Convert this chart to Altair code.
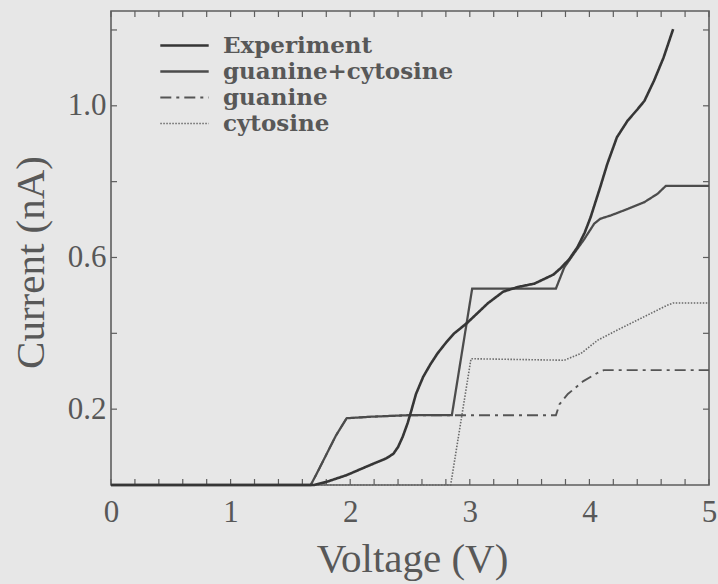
import altair as alt
import pandas as pd

# I-V curves: voltage (V) and current (nA)
exp_v = [0.0, 1.00, 1.70, 1.80, 1.97, 2.17, 2.30, 2.36, 2.40, 2.44, 2.48, 2.51, 2.55, 2.61, 2.67,
         2.73, 2.80, 2.87, 2.98, 3.07, 3.15, 3.28, 3.40, 3.54, 3.70, 3.76, 3.83, 3.90, 3.96, 4.01,
         4.09, 4.15, 4.23, 4.32, 4.40, 4.46, 4.54, 4.62, 4.70]
exp_i = [0.0, 0.0, 0.0, 0.008, 0.026, 0.053, 0.07, 0.082, 0.10, 0.128, 0.163, 0.195, 0.24, 0.285,
         0.318, 0.347, 0.375, 0.40, 0.428, 0.455, 0.479, 0.51, 0.522, 0.531, 0.555, 0.572, 0.595,
         0.627, 0.665, 0.706, 0.785, 0.847, 0.917, 0.961, 0.99, 1.013, 1.066, 1.127, 1.202]

gc_v = [0.0, 1.67, 1.72, 1.80, 1.88, 1.97, 2.17, 2.48, 2.85, 3.02, 3.72, 3.79, 3.87, 3.95,
        4.04, 4.09, 4.18, 4.32, 4.46, 4.57, 4.64, 5.0]
gc_i = [0.0, 0.0, 0.03, 0.08, 0.13, 0.176, 0.180, 0.184, 0.184, 0.518, 0.518, 0.574, 0.61, 0.645,
        0.689, 0.702, 0.711, 0.728, 0.746, 0.768, 0.789, 0.789]

g_v = [0.0, 1.67, 1.72, 1.80, 1.88, 1.97, 2.17, 2.48, 3.72, 3.75, 3.82, 3.95, 4.07, 4.12, 5.0]
g_i = [0.0, 0.0, 0.03, 0.08, 0.13, 0.176, 0.180, 0.184, 0.184, 0.213, 0.24, 0.274, 0.296, 0.303, 0.303]

c_v = [0.0, 2.84, 3.01, 3.79, 3.93, 4.07, 4.23, 4.37, 4.51, 4.65, 4.70, 5.0]
c_i = [0.0, 0.0, 0.333, 0.329, 0.347, 0.382, 0.408, 0.43, 0.452, 0.474, 0.48, 0.48]

series_names = ["Experiment", "guanine+cytosine", "guanine", "cytosine"]
series_colors = ["#363636", "#4c4c4c", "#555555", "#6a6a6a"]
series_dashes = [[1, 0], [1, 0], [11, 5, 3, 5], [1.5, 1.5]]
series_widths = [2.6, 1.6, 1.6, 1.3]

# tick positions on the frame
x_ticks = [0.0, 0.2, 0.4, 0.6, 0.8, 1.0, 1.2, 1.4, 1.6, 1.8, 2.0, 2.2, 2.4, 2.6, 2.8, 3.0,
           3.2, 3.4, 3.6, 3.8, 4.0, 4.2, 4.4, 4.6, 4.8, 5.0]
x_labels = [0, 1, 2, 3, 4, 5]
y_ticks = [0.2, 0.4, 0.6, 0.8, 1.0, 1.2]
y_labels = [0.2, 0.6, 1.0]

rows = []
# drawing order: thin model curves first, experiment on top
for name, vs, cs in [("cytosine", c_v, c_i), ("guanine", g_v, g_i),
                     ("guanine+cytosine", gc_v, gc_i), ("Experiment", exp_v, exp_i)]:
    for k, (v, c) in enumerate(zip(vs, cs)):
        rows.append({"series": name, "V": v, "I": c, "k": k})
df = pd.DataFrame(rows)

W, H = 598, 474
frame_gray = "#5e5e5e"
text_gray = "#585858"
serif = "Liberation Serif"

x_scale = alt.Scale(domain=[0, 5], nice=False, zero=False)
y_scale = alt.Scale(domain=[0, 1.25], nice=False)

x_axis = alt.Axis(values=x_labels, format="d", labelFlush=False, ticks=False, domain=False,
                  grid=False, labelFontSize=31, labelFont=serif, labelColor=text_gray,
                  labelPadding=12, titleFontSize=41, titleFont=serif, titleFontWeight="normal",
                  titleColor=text_gray, titleX=301, titleY=74, titleBaseline="middle",
                  titleAlign="center")
y_axis = alt.Axis(values=y_labels, format=".1f", ticks=False, domain=False, grid=False,
                  labelFontSize=31, labelFont=serif, labelColor=text_gray, labelPadding=5,
                  titleFontSize=41, titleFont=serif, titleFontWeight="normal",
                  titleColor=text_gray, titleAngle=270, titleX=-80, titleY=251,
                  titleBaseline="middle", titleAlign="center")

# a long horizontal stroke as the legend key, kept short in height so rows stay compact
legend = alt.Legend(orient="none", legendX=62, legendY=23, symbolType="M-4.4,0H4.4",
                    symbolSize=121, labelFont="DejaVu Serif", labelFontWeight="bold",
                    labelFontSize=23, labelColor=text_gray, labelOffset=27, rowPadding=2,
                    labelLimit=400, padding=0)

lines = alt.Chart(df).mark_line(strokeCap="butt").encode(
    x=alt.X("V:Q", scale=x_scale, axis=x_axis, title="Voltage (V)"),
    y=alt.Y("I:Q", scale=y_scale, axis=y_axis, title="Current (nA)"),
    order="k:Q",
    color=alt.Color("series:N", scale=alt.Scale(domain=series_names, range=series_colors),
                    legend=legend, title=None),
    strokeDash=alt.StrokeDash("series:N", scale=alt.Scale(domain=series_names, range=series_dashes),
                              legend=legend, title=None),
    strokeWidth=alt.StrokeWidth("series:N", scale=alt.Scale(domain=series_names, range=series_widths),
                                legend=legend, title=None),
)

xt = pd.DataFrame({"V": x_ticks})
yt = pd.DataFrame({"I": y_ticks})
tick_style = dict(color=frame_gray, strokeWidth=1.2)

bottom_ticks = alt.Chart(xt).mark_rule(**tick_style).encode(
    x=alt.X("V:Q", title="Voltage (V)"), y=alt.value(H), y2=alt.value(H - 6))
top_ticks = alt.Chart(xt).mark_rule(**tick_style).encode(
    x=alt.X("V:Q", title="Voltage (V)"), y=alt.value(0), y2=alt.value(6))
left_ticks = alt.Chart(yt).mark_rule(**tick_style).encode(
    y=alt.Y("I:Q", title="Current (nA)"), x=alt.value(0), x2=alt.value(6))
right_ticks = alt.Chart(yt).mark_rule(**tick_style).encode(
    y=alt.Y("I:Q", title="Current (nA)"), x=alt.value(W), x2=alt.value(W - 6))

chart = alt.layer(bottom_ticks, top_ticks, left_ticks, right_ticks, lines).properties(
    width=W, height=H,
    autosize=alt.AutoSizeParams(type="none"),
    padding={"left": 111, "top": 11, "right": 9, "bottom": 99},
    background="#e7e7e7",
).configure_view(stroke=frame_gray, strokeWidth=1.6, fill="#e7e7e7")

chart.save("out.html", embed_options={"renderer": "svg", "actions": False})
